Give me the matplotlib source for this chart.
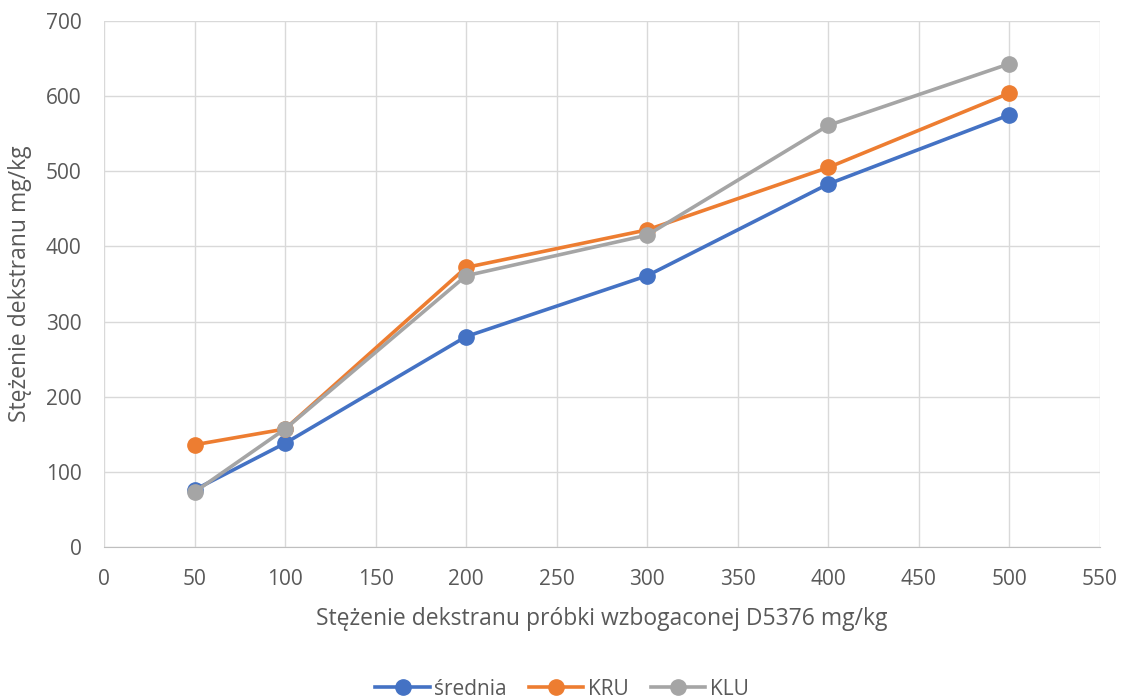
import matplotlib
matplotlib.use("Agg")
import matplotlib.pyplot as plt


x_values = [50, 100, 200, 300, 400, 500]
srednia = [76, 138, 280, 361, 483, 575]
kru = [136, 157, 372, 422, 505, 604]
klu = [73, 157, 361, 415, 561, 643]

series_names = ["średnia", "KRU", "KLU"]
series_colors = ["#4472C4", "#ED7D31", "#A5A5A5"]

plt.rcParams["font.family"] = ["Open Sans", "DejaVu Sans"]

fig = plt.figure(figsize=(11.24, 6.99), dpi=100)
ax = fig.add_axes([0.0925, 0.2175, 0.886, 0.7525])

for values, name, color in zip([srednia, kru, klu], series_names, series_colors):
	ax.plot(x_values, values, color=color, linewidth=2.6, marker="o", markersize=11, label=name)

ax.set_xlim(0, 550)
ax.set_ylim(0, 700)
ax.set_xticks(range(0, 551, 50))
ax.set_yticks(range(0, 701, 100))
ax.grid(True, color="#D9D9D9", linewidth=1)
ax.set_axisbelow(True)
for side in ["top", "right", "left"]:
	ax.spines[side].set_visible(False)
ax.spines["bottom"].set_color("#BFBFBF")
ax.tick_params(axis="both", length=0, labelsize=15, colors="#595959", pad=16)

ax.set_xlabel("Stężenie dekstranu próbki wzbogaconej D5376 mg/kg", fontsize=16.5, color="#595959", labelpad=12)
ax.set_ylabel("Stężenie dekstranu mg/kg", fontsize=16.5, color="#595959", labelpad=10)

legend = fig.legend(loc="center", bbox_to_anchor=(0.5, 0.014), ncol=3, frameon=False,
	fontsize=15, handlelength=2.6, columnspacing=1.1, handletextpad=0.2)
for text in legend.get_texts():
	text.set_color("#595959")

fig.savefig("out.png", dpi=100)
